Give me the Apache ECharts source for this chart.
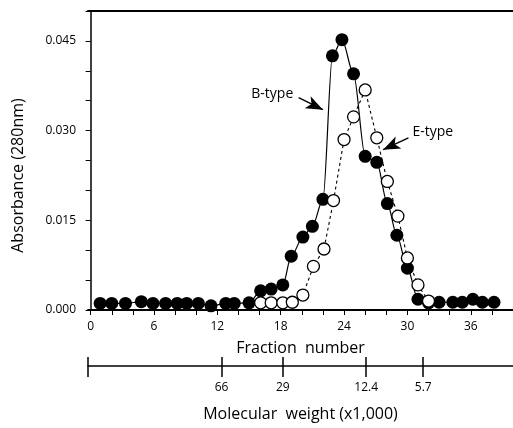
<!DOCTYPE html>
<html>
<head>
    <meta charset="utf-8" />
    <title>Absorbance profile</title>
    <script src="https://cdn.jsdelivr.net/npm/echarts@6/dist/echarts.min.js"></script>
    <style>
        html, body { margin: 0; padding: 0; background: #fff; }
        #chart { width: 513px; height: 428px; }
    </style>
</head>
<body>
    <div id="chart"></div>
    <script>
        // B-type (filled circles)
        var fractionB = [0.9, 2, 3.3, 4.8, 5.9, 7.1, 8.2, 9.1, 10.2, 11.4, 12.8, 13.6, 15,
            16.1, 17.1, 18.2, 19, 20.1, 21, 22, 22.9, 23.8, 24.9, 26, 27.1, 28.1, 29, 30, 31,
            32, 33, 34.3, 35.2, 36.2, 37.1, 38.2];
        var absB = [0.0011, 0.0011, 0.0011, 0.0014, 0.0011, 0.0011, 0.0011, 0.0011, 0.0011, 0.0007, 0.0011, 0.0011, 0.0012,
            0.0032, 0.0035, 0.0042, 0.009, 0.0122, 0.014, 0.0185, 0.0425, 0.0452, 0.0395, 0.0257, 0.0247, 0.0178, 0.0125, 0.007, 0.0018,
            0.0012, 0.0013, 0.0013, 0.0013, 0.0018, 0.0013, 0.0013];
        // E-type (open circles)
        var fractionE = [16.1, 17.1, 18.2, 19.1, 20.1, 21.1, 22.1, 23, 24, 24.9, 26, 27.1, 28.1, 29.1, 30, 31, 32];
        var absE = [0.0012, 0.0012, 0.0012, 0.0013, 0.0025, 0.0073, 0.0102, 0.0183, 0.0285, 0.0323, 0.0368, 0.0288, 0.0215, 0.0157, 0.0087, 0.0042, 0.0015];

        var fractionTicks = [0, 2, 4, 6, 8, 10, 12, 14, 16, 18, 20, 22, 24, 26, 28, 30, 32, 34, 36, 38, 40];
        var fractionLabels = [0, 6, 12, 18, 24, 30, 36];
        var absTicks = [0, 0.005, 0.01, 0.015, 0.02, 0.025, 0.03, 0.035, 0.04, 0.045, 0.05];
        var absLabels = [0, 0.015, 0.03, 0.045];
        // molecular weight markers, placed at their elution fraction
        var mwPositions = [12.4, 18.2, 26.1, 31.5];
        var mwLabels = ['66', '29', '12.4', '5.7'];

        var arrowB = [[19.7, 0.0355], [22.0, 0.0335]];
        var arrowE = [[30.1, 0.0288], [27.7, 0.0268]];
        var textB = [17.2, 0.0362];
        var textE = [32.4, 0.0298];

        var font = 'Open Sans';
        function pairs(xs, ys) {
            var out = [];
            for (var i = 0; i < xs.length; i++) out.push([xs[i], ys[i]]);
            return out;
        }

        var chart = echarts.init(document.getElementById('chart'));
        chart.setOption({
            animation: false,
            textStyle: { fontFamily: font, color: '#000' },
            grid: [
                { left: 88, right: 0, top: 11, bottom: 118 },
                { left: 88, right: 0, top: 366, height: 0 }
            ],
            xAxis: [
                {
                    type: 'value', gridIndex: 0, position: 'bottom', min: -0.25, max: 40,
                    name: 'Fraction  number', nameLocation: 'middle', nameGap: 30,
                    nameTextStyle: { fontSize: 16, fontFamily: font, color: '#000' },
                    axisLine: { lineStyle: { color: '#000', width: 2 } },
                    axisTick: { customValues: fractionTicks, length: 5, lineStyle: { color: '#000' } },
                    axisLabel: { customValues: fractionLabels, fontSize: 12, margin: 11, color: '#000', fontFamily: font },
                    splitLine: { show: false }
                },
                {
                    type: 'value', gridIndex: 0, position: 'top', min: -0.25, max: 40,
                    axisLine: { lineStyle: { color: '#000', width: 2 } },
                    axisTick: { show: false }, axisLabel: { show: false }, splitLine: { show: false }
                },
                {
                    type: 'value', gridIndex: 1, position: 'bottom', min: -0.25, max: 40,
                    name: 'Molecular  weight (x1,000)', nameLocation: 'middle', nameGap: 40,
                    nameTextStyle: { fontSize: 16, fontFamily: font, color: '#000' },
                    axisLine: { lineStyle: { color: '#000', width: 1.5 } },
                    axisTick: { customValues: [-0.25].concat(mwPositions), length: 11, lineStyle: { color: '#000', width: 1.5 } },
                    axisLabel: {
                        customValues: mwPositions, fontSize: 12, margin: 16, color: '#000', fontFamily: font,
                        formatter: function (v) { return mwLabels[mwPositions.indexOf(v)]; }
                    },
                    splitLine: { show: false }
                },
                {
                    type: 'value', gridIndex: 1, position: 'top', min: -0.25, max: 40,
                    axisLine: { show: false },
                    axisTick: { customValues: [-0.25].concat(mwPositions), length: 9, lineStyle: { color: '#000', width: 1.5 } },
                    axisLabel: { show: false }, splitLine: { show: false }
                }
            ],
            yAxis: [
                {
                    type: 'value', gridIndex: 0, min: 0, max: 0.05,
                    name: 'Absorbance (280nm)', nameLocation: 'middle', nameGap: 62,
                    nameTextStyle: { fontSize: 16, fontFamily: font, color: '#000', padding: [0, 30, 0, 0] },
                    axisLine: { show: true, lineStyle: { color: '#000', width: 1.5 } },
                    axisTick: { customValues: absTicks, length: 5, lineStyle: { color: '#000' } },
                    axisLabel: {
                        customValues: absLabels, fontSize: 12, margin: 12, color: '#000', fontFamily: font,
                        formatter: function (v) { return v.toFixed(3); }
                    },
                    splitLine: { show: false }
                },
                { type: 'value', gridIndex: 1, show: false }
            ],
            series: [
                {
                    name: 'B-type', type: 'line', xAxisIndex: 0, yAxisIndex: 0,
                    data: pairs(fractionB, absB),
                    smooth: 0.3, smoothMonotone: 'x',
                    symbol: 'circle', symbolSize: 13,
                    itemStyle: { color: '#000' },
                    lineStyle: { color: '#000', width: 1.2 },
                    z: 2,
                    markLine: {
                        silent: true, symbol: ['none', 'arrow'], symbolSize: [10, 17],
                        lineStyle: { color: '#000', width: 1.4, type: 'solid' },
                        label: { show: false },
                        data: [
                            [{ coord: arrowB[0] }, { coord: arrowB[1] }],
                            [{ coord: arrowE[0] }, { coord: arrowE[1] }]
                        ]
                    },
                    markPoint: {
                        silent: true, symbol: 'rect', symbolSize: 1,
                        itemStyle: { color: 'transparent' },
                        label: { show: true, position: 'inside', color: '#000', fontSize: 14, fontFamily: font, formatter: '{b}' },
                        data: [
                            { name: 'B-type', coord: textB },
                            { name: 'E-type', coord: textE }
                        ]
                    }
                },
                {
                    name: 'E-type', type: 'line', xAxisIndex: 0, yAxisIndex: 0,
                    data: pairs(fractionE, absE),
                    symbol: 'circle', symbolSize: 12,
                    itemStyle: { color: '#fff', borderColor: '#000', borderWidth: 1.3 },
                    lineStyle: { color: '#000', width: 1.1, type: [3, 3] },
                    z: 3
                }
            ]
        });
    </script>
</body>
</html>
